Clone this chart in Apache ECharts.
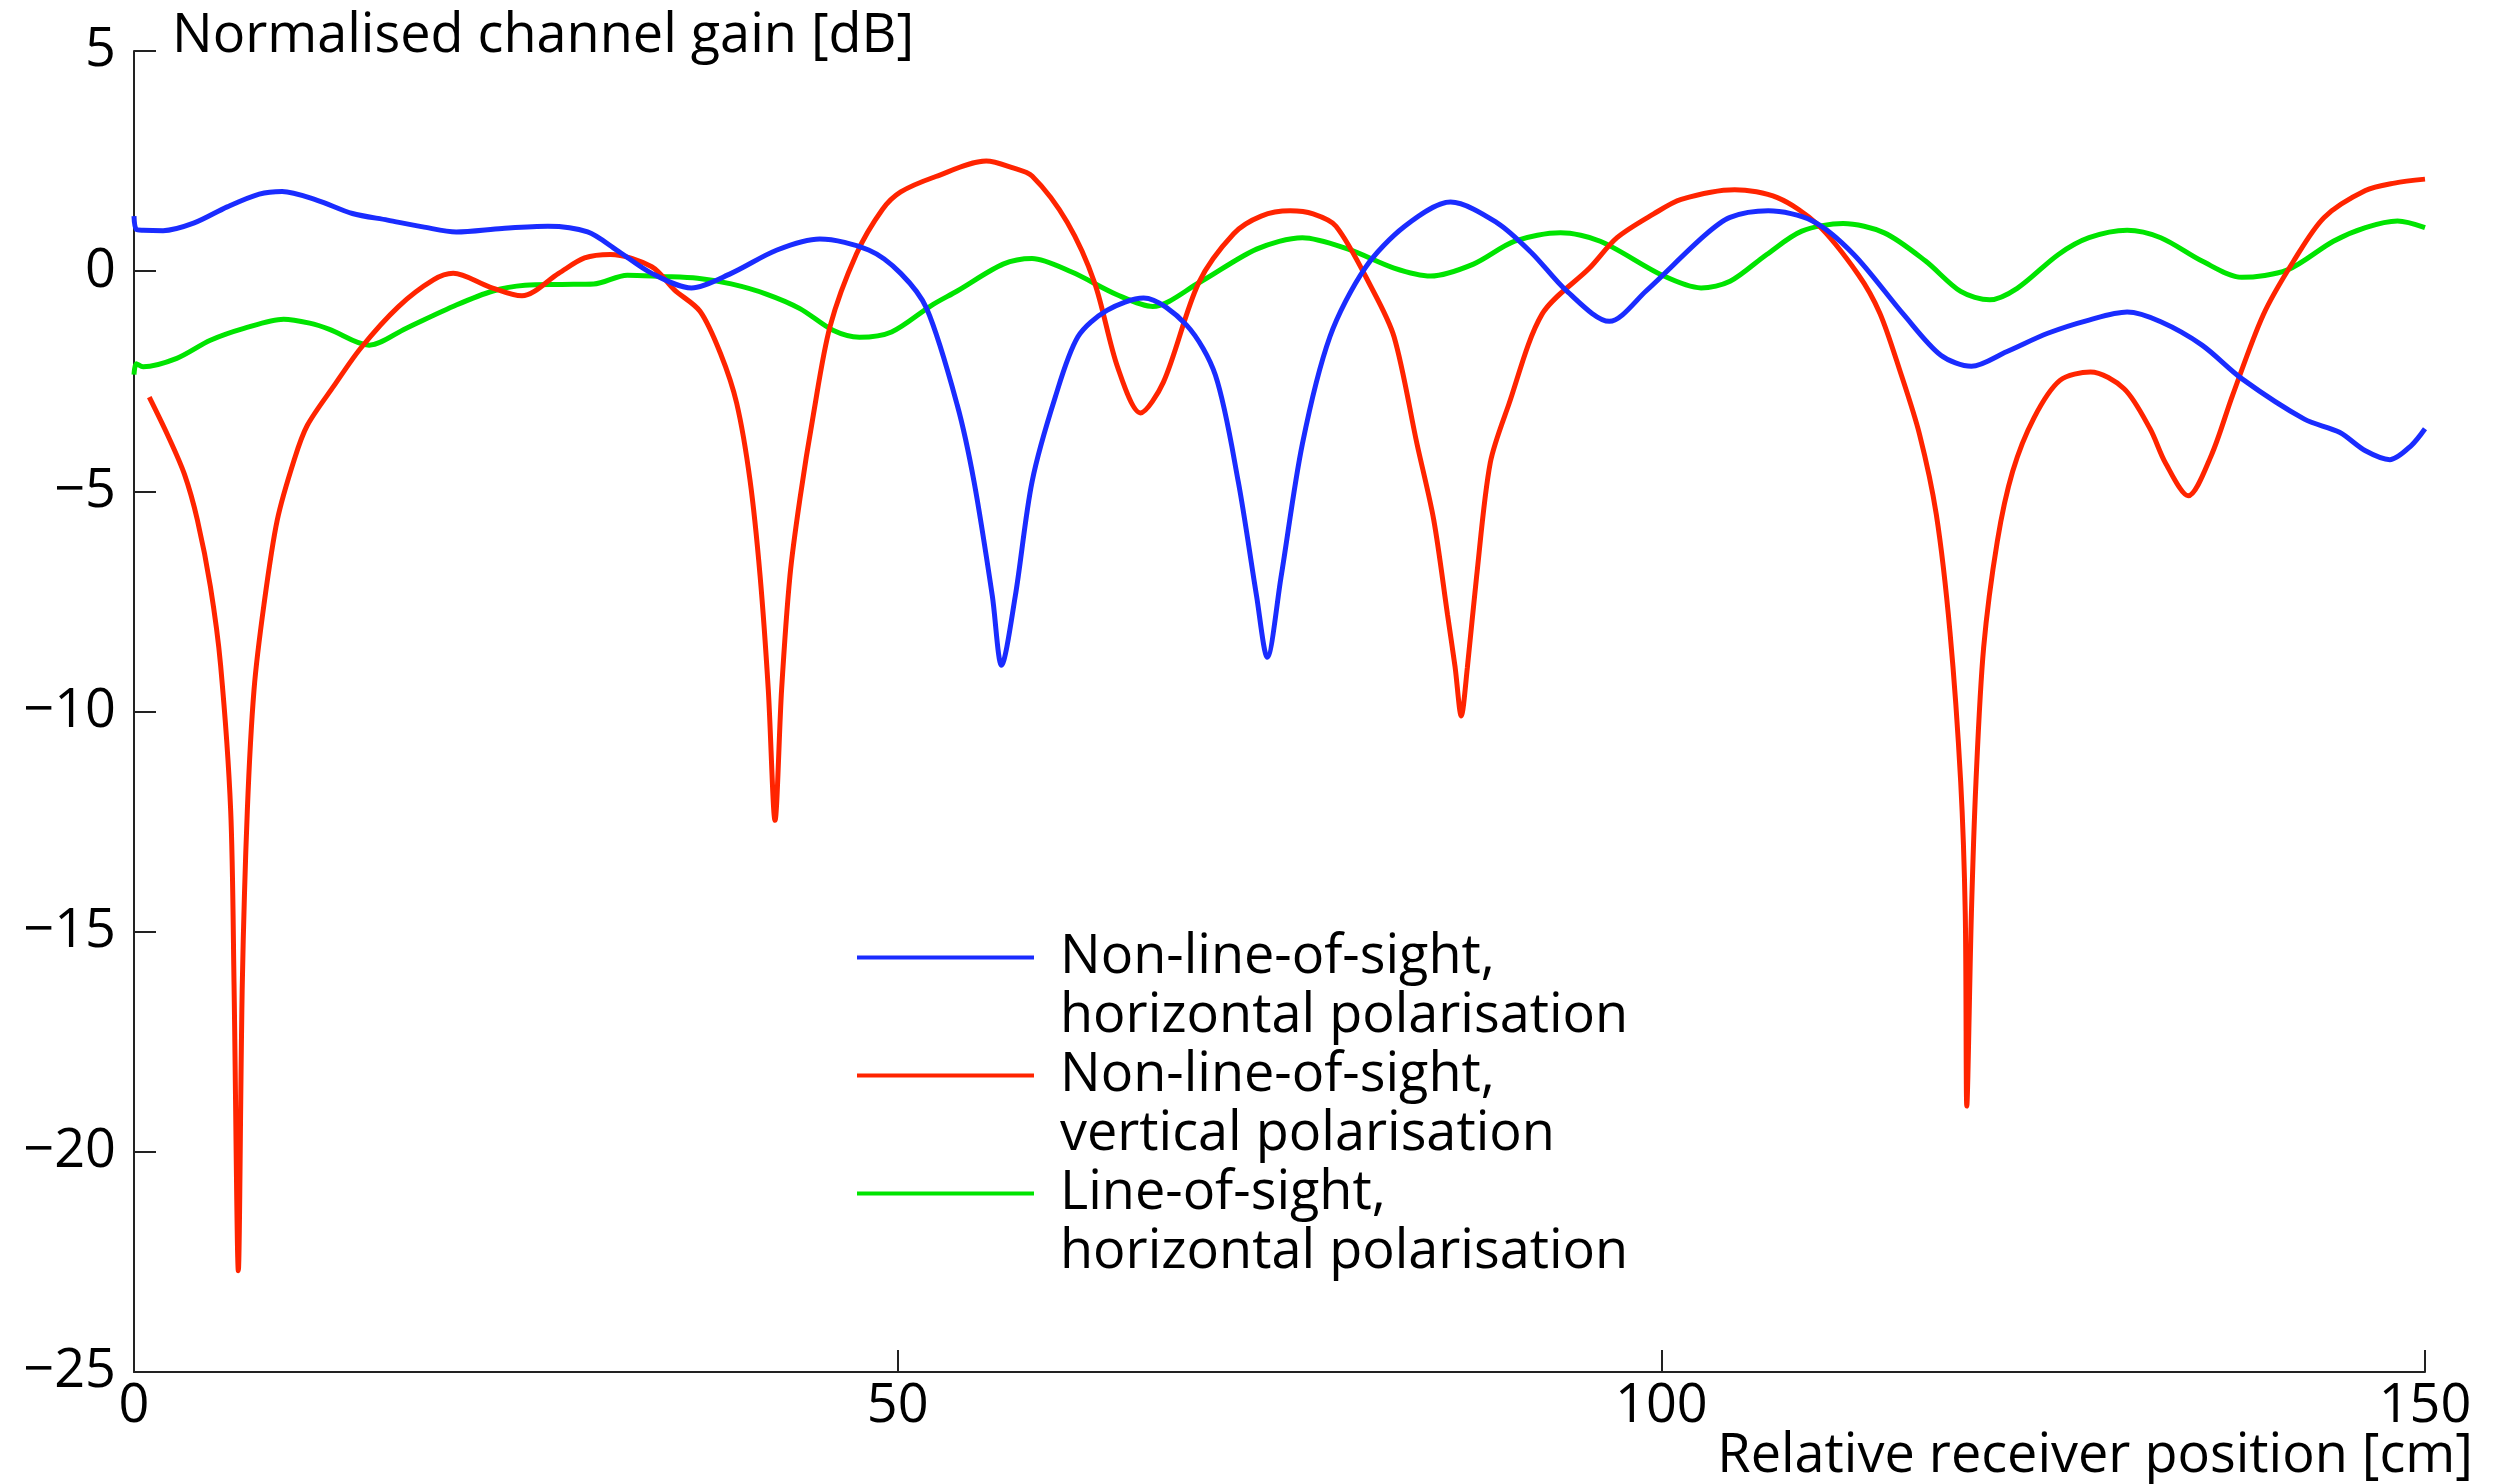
<!DOCTYPE html>
<html>
<head>
<meta charset="utf-8">
<script src="https://cdn.jsdelivr.net/npm/echarts@6/dist/echarts.min.js"></script>
<style>
  html, body { margin: 0; padding: 0; background: #fff; }
  #chart { width: 2502px; height: 1484px; }
</style>
</head>
<body>
<div id="chart"></div>
<script>
// Non-line-of-sight, horizontal polarisation (blue)
let nlosHorizX = [0, 0.15, 0.6, 1.9, 3.9, 6.1, 8.2, 9.7, 12.0, 14.3, 16.6, 19.0, 21.1, 24.1, 27.1, 29.7, 31.6, 33.9, 36.5, 39.1, 42.1, 44.9, 48.1, 50.2, 51.9, 53.9, 55.0, 56.2, 56.8, 57.7, 58.8, 60.3, 61.8, 63.7, 66.1, 68.9, 70.8, 72.3, 73.5, 74.2, 75.1, 76.5, 78.3, 80.6, 83.2, 86.2, 89.2, 91.5, 93.8, 96.6, 99.0, 102.8, 104.5, 107.0, 109.9, 112.6, 115.9, 118.3, 120.3, 122.6, 125.3, 128.0, 130.5, 132.7, 135.4, 138.0, 142.1, 144.4, 146.1, 147.7, 149.1, 150];
let nlosHorizY = [1.25, 0.95, 0.93, 0.92, 1.09, 1.46, 1.75, 1.81, 1.61, 1.31, 1.16, 1.0, 0.89, 0.97, 1.02, 0.89, 0.48, -0.05, -0.38, -0.05, 0.48, 0.73, 0.48, -0.05, -0.85, -3.04, -4.78, -7.38, -8.95, -7.38, -4.78, -2.88, -1.49, -0.89, -0.61, -1.22, -2.36, -4.78, -7.38, -8.77, -6.95, -3.92, -1.49, 0.07, 1.02, 1.57, 1.11, 0.42, -0.45, -1.14, -0.45, 0.8, 1.22, 1.37, 1.14, 0.38, -1.0, -1.91, -2.16, -1.83, -1.41, -1.11, -0.93, -1.15, -1.68, -2.44, -3.36, -3.66, -4.08, -4.28, -3.96, -3.58];

// Non-line-of-sight, vertical polarisation (red)
let nlosVertX = [1.0, 2.2, 3.3, 4.15, 5.0, 5.67, 6.33, 6.55, 6.83, 7.09, 7.42, 7.86, 8.51, 9.38, 10.5, 11.35, 13.1, 14.84, 17.3, 19.6, 20.9, 23.3, 25.4, 27.8, 29.5, 31.2, 33.9, 35.4, 37.06, 38.4, 39.46, 40.33, 40.99, 41.53, 41.97, 42.4, 42.95, 43.6, 44.48, 45.57, 47.3, 49.0, 50.2, 52.5, 55.8, 57.5, 58.8, 61.1, 62.9, 64.4, 65.9, 67.4, 69.7, 72.0, 73.8, 75.7, 77.2, 78.7, 81.0, 82.5, 84.0, 85.1, 86.0, 86.5, 86.9, 87.3, 87.9, 88.8, 90.0, 92.2, 95.3, 97.1, 99.5, 101.3, 104.8, 107.6, 110.2, 112.9, 114.3, 115.6, 116.9, 118.0, 118.9, 119.6, 119.9, 120.0, 120.3, 120.6, 121.1, 122.0, 123.0, 124.4, 126.1, 128.1, 130.3, 132.0, 133.0, 134.5, 136.0, 137.4, 139.4, 141.4, 143.4, 146.1, 148.0, 150];
let nlosVertY = [-2.86, -3.72, -4.61, -5.65, -7.16, -8.95, -12.25, -16.2, -22.7, -16.2, -12.25, -9.5, -7.57, -5.65, -4.27, -3.5, -2.6, -1.75, -0.81, -0.2, -0.05, -0.36, -0.56, -0.05, 0.3, 0.38, 0.1, -0.43, -0.91, -1.87, -3.0, -4.74, -6.91, -9.51, -12.47, -9.51, -6.91, -5.17, -3.26, -1.26, 0.39, 1.4, 1.8, 2.15, 2.5, 2.35, 2.16, 1.11, -0.27, -2.18, -3.22, -2.52, -0.27, 0.85, 1.25, 1.37, 1.3, 1.02, -0.36, -1.49, -3.92, -5.65, -7.8, -9.0, -10.1, -9.0, -6.95, -4.35, -3.04, -0.97, 0.07, 0.76, 1.3, 1.63, 1.85, 1.67, 1.07, -0.08, -0.95, -2.24, -3.7, -5.52, -8.2, -11.6, -14.6, -18.96, -14.6, -11.6, -8.56, -6.13, -4.55, -3.33, -2.48, -2.29, -2.67, -3.58, -4.35, -5.1, -4.19, -2.82, -1.0, 0.23, 1.22, 1.83, 2.0, 2.09];

// Line-of-sight, horizontal polarisation (green)
let losHorizX = [0, 0.15, 0.6, 2.8, 5.0, 7.2, 9.8, 11.5, 12.8, 15.4, 17.8, 21.1, 23.5, 25.6, 28.0, 30.1, 32.3, 34.5, 36.9, 39.1, 41.4, 43.6, 45.8, 47.5, 49.6, 52.2, 53.9, 56.9, 58.8, 61.4, 64.4, 66.7, 69.7, 73.5, 76.5, 79.5, 82.5, 84.9, 87.7, 90.4, 93.4, 96.0, 100.1, 102.6, 104.5, 106.9, 109.2, 111.9, 114.6, 117.3, 119.6, 121.5, 123.3, 126.0, 128.0, 130.5, 132.7, 135.4, 138.0, 141.0, 144.0, 146.1, 148.2, 150];
let losHorizY = [-2.35, -2.1, -2.17, -1.98, -1.57, -1.3, -1.09, -1.18, -1.32, -1.68, -1.3, -0.77, -0.45, -0.32, -0.3, -0.29, -0.09, -0.12, -0.16, -0.29, -0.52, -0.85, -1.35, -1.5, -1.38, -0.78, -0.45, 0.16, 0.29, -0.02, -0.54, -0.8, -0.27, 0.5, 0.76, 0.5, 0.07, -0.11, 0.16, 0.68, 0.87, 0.68, -0.1, -0.38, -0.23, 0.38, 0.91, 1.08, 0.87, 0.23, -0.46, -0.65, -0.39, 0.38, 0.76, 0.93, 0.76, 0.23, -0.14, 0.03, 0.68, 0.99, 1.14, 0.99];

let seriesNames = [
    "Non-line-of-sight,\nhorizontal polarisation",
    "Non-line-of-sight,\nvertical polarisation",
    "Line-of-sight,\nhorizontal polarisation"
];
let seriesColors = ["#1a2cff", "#ff2400", "#00e400"];

const FONT = "Open Sans";
const FONT_SIZE = 54;
const AXIS = "#222";

// Pairs the x and y arrays into points for a value/value chart
function zipPoints(xs, ys) {
    return xs.map((x, i) => [x, ys[i]]);
}

function minusLabel(v) {
    return v < 0 ? "\u2212" + Math.abs(v) : String(v);
}

const chart = echarts.init(document.getElementById("chart"), null, { renderer: "canvas" });

const allData = [
    zipPoints(nlosHorizX, nlosHorizY),
    zipPoints(nlosVertX, nlosVertY),
    zipPoints(losHorizX, losHorizY)
];

let options = {
    animation: false,
    backgroundColor: "#fff",
    textStyle: { fontFamily: FONT },
    grid: {
        left: 134,
        right: 77,
        top: 51,
        bottom: 112,
        outerBoundsMode: "none"
    },
    legend: {
        orient: "vertical",
        left: 857,
        top: 869,
        padding: 0,
        itemGap: -59,
        icon: "rect",
        itemWidth: 177,
        itemHeight: 4,
        selectedMode: false,
        data: seriesNames,
        // a blank first line keeps the icon level with the first text line
        formatter: name => "\n" + name,
        textStyle: {
            fontFamily: FONT,
            fontSize: FONT_SIZE,
            color: "#000",
            lineHeight: 59,
            padding: [0, 0, 0, 21],
            backgroundColor: "rgba(255,255,255,0)"
        }
    },
    xAxis: {
        type: "value",
        min: 0,
        max: 150,
        interval: 50,
        name: "Relative receiver position [cm]",
        nameLocation: "end",
        nameGap: 48,
        nameMoveOverlap: false,
        nameTextStyle: {
            fontFamily: FONT,
            fontSize: FONT_SIZE,
            color: "#000",
            align: "right",
            verticalAlign: "top",
            lineHeight: 54,
            padding: [58, 0, 0, 0]
        },
        axisLine: { show: true, onZero: false, lineStyle: { color: AXIS, width: 2 } },
        axisTick: { show: true, inside: true, length: 22, lineStyle: { color: AXIS, width: 2 } },
        axisLabel: {
            fontFamily: FONT,
            fontSize: FONT_SIZE,
            color: "#000",
            margin: 8,
            lineHeight: 54,
            formatter: minusLabel
        },
        splitLine: { show: false }
    },
    yAxis: {
        type: "value",
        min: -25,
        max: 5,
        interval: 5,
        name: "Normalised channel gain [dB]",
        nameLocation: "end",
        nameGap: 14,
        nameMoveOverlap: false,
        nameTextStyle: {
            fontFamily: FONT,
            fontSize: FONT_SIZE,
            color: "#000",
            align: "left",
            verticalAlign: "middle",
            padding: [0, 0, 0, 38]
        },
        axisLine: { show: true, lineStyle: { color: AXIS, width: 2 } },
        axisTick: { show: true, inside: true, length: 22, lineStyle: { color: AXIS, width: 2 } },
        axisLabel: {
            fontFamily: FONT,
            fontSize: FONT_SIZE,
            color: "#000",
            margin: 18,
            formatter: minusLabel
        },
        splitLine: { show: false }
    },
    series: seriesNames.map((name, i) => ({
        name: name,
        type: "line",
        data: allData[i],
        color: seriesColors[i],
        symbol: "none",
        smooth: 0.3,
        lineStyle: { width: 5, color: seriesColors[i] },
        z: 3 - i
    }))
};

chart.setOption(options);
</script>
</body>
</html>
